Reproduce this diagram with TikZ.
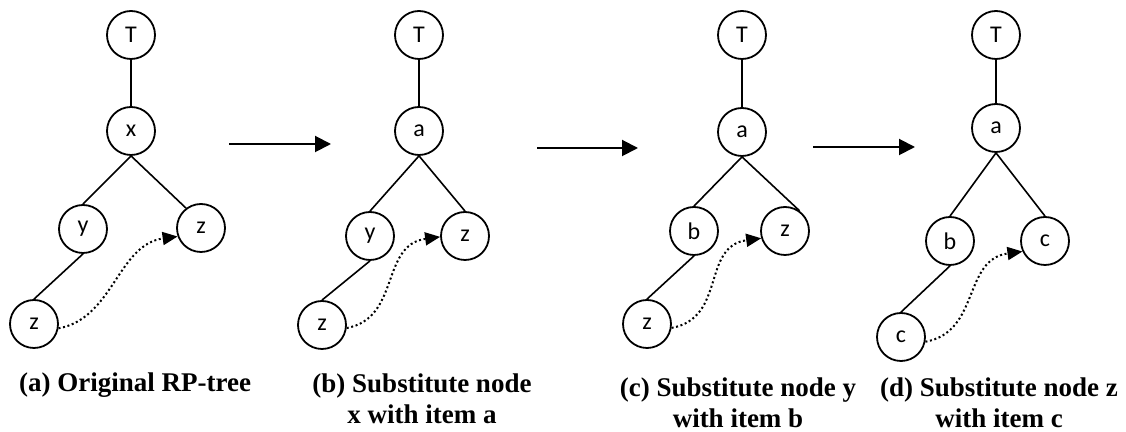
\documentclass[tikz,border=0pt]{standalone}
\usepackage{fontspec}
\setmainfont{Liberation Serif}
\newfontfamily\vertfont{Carlito}
\usetikzlibrary{arrows.meta}

\begin{document}
\begin{tikzpicture}[x=0.5pt,y=-0.5pt,
  vert/.style={circle,draw,line width=0.9pt,minimum size=24pt,inner sep=0pt,font=\vertfont\fontsize{12}{14}\selectfont},
  link/.style={line width=0.8pt},
  subst/.style={line width=1pt,dash pattern=on 1pt off 1.3pt,-{Triangle[length=7.5pt,width=6.5pt]}},
  stage/.style={line width=1pt,-{Triangle[length=8pt,width=8pt]}},
  capt/.style={font=\bfseries\fontsize{13.5}{15.5}\selectfont,align=center}]
\useasboundingbox (0,0) rectangle (1126,432);
\node[vert] (Ta) at (131,35) {T};
\node[vert] (xa) at (131,131) {x};
\node[vert] (ya) at (83,229) {y};
\node[vert] (za) at (201,228) {z};
\node[vert] (zza) at (34,324) {z};
\draw[link] (Ta) -- (xa);
\draw[link] (xa.south) -- (ya.north);
\draw[link] (xa.south) -- (za.127);
\draw[link] (ya.south) -- (zza.north);
\draw[subst] (zza.350) .. controls +(55,-10) and +(-60,8) .. (za.200);
\node[vert] (Tb) at (419,35) {T};
\node[vert] (ab) at (419,131) {a};
\node[vert] (yb) at (370,236) {y};
\node[vert] (zb) at (465,236) {z};
\node[vert] (zzb) at (322,325) {z};
\draw[link] (Tb) -- (ab);
\draw[link] (ab.south) -- (yb.north);
\draw[link] (ab.south) -- (zb.north);
\draw[link] (yb.south) -- (zzb.north);
\draw[subst] (zzb.353) .. controls +(54,-10) and +(-60,8) .. (zb.182);
\node[vert] (Tc) at (742,35) {T};
\node[vert] (ac) at (742,132) {a};
\node[vert] (bc) at (694,231) {b};
\node[vert] (zc) at (785,231) {z};
\node[vert] (zzc) at (647,324) {z};
\draw[link] (Tc) -- (ac);
\draw[link] (ac.south) -- (bc.north);
\draw[link] (ac.south) -- (zc.54);
\draw[link] (bc.south) -- (zzc.north);
\draw[subst] (zzc.351) .. controls +(55,-10) and +(-60,8) .. (zc.197);
\node[vert] (Td) at (996,35) {T};
\node[vert] (ad) at (996,128) {a};
\node[vert] (bd) at (950,241) {b};
\node[vert] (cd) at (1045,241) {c};
\node[vert] (ccd) at (901,337) {c};
\draw[link] (Td) -- (ad);
\draw[link] (ad.south) -- (bd.north);
\draw[link] (ad.south) -- (cd.north);
\draw[link] (bd.south) -- (ccd.north);
\draw[subst] (ccd.349) .. controls +(55,-10) and +(-60,8) .. (cd.205);
\coordinate (s1) at (229,144);
\coordinate (e1) at (331,144);
\coordinate (s2) at (537,148);
\coordinate (e2) at (638,148);
\coordinate (s3) at (813,147);
\coordinate (e3) at (915,147);
\draw[stage] (s1) -- (e1);
\draw[stage] (s2) -- (e2);
\draw[stage] (s3) -- (e3);
\node[capt] (capa) at (135,385) {(a) Original RP-tree};
\node[capt] (capb) at (422,399) {(b) Substitute node\\x with item a};
\node[capt] (capc) at (738,403) {(c) Substitute node y\\with item b};
\node[capt] (capd) at (999,403) {(d) Substitute node z\\with item c};
\end{tikzpicture}
\end{document}
